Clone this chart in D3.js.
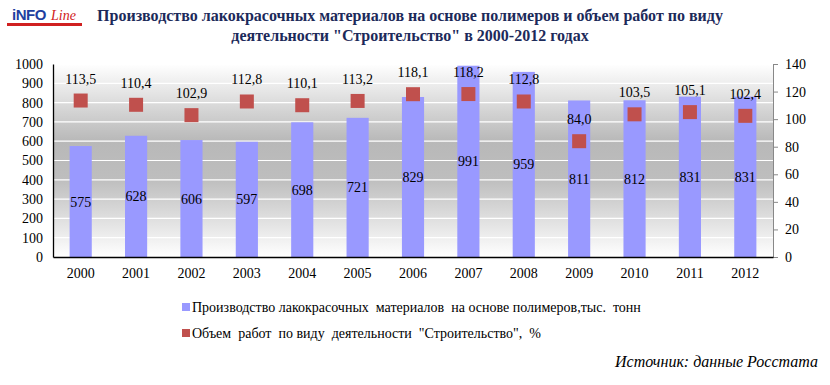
<!DOCTYPE html>
<html>
<head>
<meta charset="utf-8">
<script src="https://cdn.jsdelivr.net/npm/d3@7"></script>
<style>
  body { margin: 0; background: #fff; }
</style>
</head>
<body>
<div id="chart"></div>
<script>
// data
const years = ["2000","2001","2002","2003","2004","2005","2006","2007","2008","2009","2010","2011","2012"];
const production = [575, 628, 606, 597, 698, 721, 829, 991, 959, 811, 812, 831, 831];
const construction = [113.5, 110.4, 102.9, 112.8, 110.1, 113.2, 118.1, 118.2, 112.8, 84.0, 103.5, 105.1, 102.4];
const leftTicks = d3.range(0, 1001, 100);
const rightTicks = d3.range(0, 141, 20);
const titleLines = [
  "Производство лакокрасочных материалов на основе полимеров и объем работ по виду",
  "деятельности \"Строительство\" в 2000-2012 годах"
];
const legendItems = [
  { label: "Производство лакокрасочных  материалов  на основе полимеров,тыс.  тонн", color: "#9999ff" },
  { label: "Объем  работ  по виду  деятельности  \"Строительство\",  %", color: "#c0504d" }
];

const SERIF = "'Liberation Serif', 'Times New Roman', serif";
const W = 830, H = 385;
const margin = {top: 64, right: 57, bottom: 128, left: 53};
const width = W - margin.left - margin.right;
const height = H - margin.top - margin.bottom;

const root = d3.select("#chart").append("svg")
  .attr("width", W)
  .attr("height", H)
  .attr("font-family", SERIF);

/* background gradient for plot area */
const grad = root.append("defs").append("linearGradient")
  .attr("id", "bg").attr("x1", 0).attr("y1", 0).attr("x2", 0).attr("y2", 1);
grad.append("stop").attr("offset", "0%").attr("stop-color", "#ffffff");
grad.append("stop").attr("offset", "40%").attr("stop-color", "#b8b8b8");
grad.append("stop").attr("offset", "60%").attr("stop-color", "#bebebe");
grad.append("stop").attr("offset", "100%").attr("stop-color", "#ffffff");

const svg = root.append("g")
  .attr("transform", `translate(${margin.left},${margin.top})`);

/* scales */
const x = d3.scaleBand().domain(years).range([0, width]).paddingInner(0.6).paddingOuter(0.3);
const y = d3.scaleLinear().domain([0, 1000]).range([height, 0]);
const y2 = d3.scaleLinear().domain([0, 140]).range([height, 0]);

svg.append("rect")
  .attr("width", width).attr("height", height)
  .attr("fill", "url(#bg)");

/* gridlines */
svg.selectAll(".grid")
  .data(leftTicks.slice(1))
  .join("line")
  .attr("class", "grid")
  .attr("x1", 0).attr("x2", width)
  .attr("y1", d => y(d)).attr("y2", d => y(d))
  .attr("stroke", "#ffffff").attr("stroke-width", 1.2);

/* bars */
svg.selectAll(".bar")
  .data(production)
  .join("rect")
  .attr("class", "bar")
  .attr("x", (d, i) => x(years[i]))
  .attr("width", x.bandwidth())
  .attr("y", d => y(d))
  .attr("height", d => height - y(d))
  .attr("fill", "#9999ff");

svg.selectAll(".barLabel")
  .data(production)
  .join("text")
  .attr("class", "barLabel")
  .attr("x", (d, i) => x(years[i]) + x.bandwidth() / 2)
  .attr("y", d => (y(d) + height) / 2 + 5)
  .attr("text-anchor", "middle")
  .attr("font-family", SERIF)
  .attr("font-size", 14)
  .text(d => d);

/* markers */
const ms = 14;
svg.selectAll(".marker")
  .data(construction)
  .join("rect")
  .attr("class", "marker")
  .attr("x", (d, i) => x(years[i]) + x.bandwidth() / 2 - ms / 2)
  .attr("y", d => y2(d) - ms / 2)
  .attr("width", ms).attr("height", ms)
  .attr("fill", "#c0504d");

const fmt = d => d3.format(".1f")(d).replace(".", ",");
svg.selectAll(".markLabel")
  .data(construction)
  .join("text")
  .attr("class", "markLabel")
  .attr("x", (d, i) => x(years[i]) + x.bandwidth() / 2)
  .attr("y", d => y2(d) - 17)
  .attr("text-anchor", "middle")
  .attr("font-family", SERIF)
  .attr("font-size", 14)
  .text(fmt);

/* axes */
const yAxis = svg.append("g")
  .call(d3.axisLeft(y).tickValues(leftTicks).tickFormat(d3.format("d")).tickSize(0).tickPadding(10));
yAxis.attr("font-family", SERIF);
yAxis.select(".domain").attr("stroke", "#000").attr("stroke-width", 1.3);
yAxis.selectAll("text").attr("font-size", 14).attr("fill", "#000");

const y2Axis = svg.append("g")
  .attr("transform", `translate(${width},0)`)
  .call(d3.axisRight(y2).tickValues(rightTicks).tickSize(5).tickSizeOuter(5).tickPadding(7));
y2Axis.attr("font-family", SERIF);
y2Axis.select(".domain").attr("stroke", "#888");
y2Axis.selectAll("line").attr("stroke", "#888");
y2Axis.selectAll("text").attr("font-size", 14).attr("fill", "#000");

const xAxis = svg.append("g")
  .attr("transform", `translate(0,${height})`)
  .call(d3.axisBottom(x).tickSize(0).tickPadding(11));
xAxis.attr("font-family", SERIF);
xAxis.select(".domain").attr("stroke", "#000").attr("stroke-width", 1.3);
xAxis.selectAll("text").attr("font-size", 14).attr("fill", "#000");

/* title */
root.selectAll(".title")
  .data(titleLines)
  .join("text")
  .attr("class", "title")
  .attr("x", 410)
  .attr("y", (d, i) => 21 + i * 20)
  .attr("text-anchor", "middle")
  .attr("font-family", SERIF)
  .attr("font-size", 16)
  .attr("font-weight", "bold")
  .attr("fill", "#1c2a5a")
  .text(d => d);

/* logo */
const logo = root.append("g").attr("transform", "translate(7,0)");
logo.append("text").attr("x", 5).attr("y", 20)
  .attr("font-size", 15).attr("font-weight", "bold")
  .attr("font-family", "'Liberation Sans', Arial, sans-serif")
  .attr("fill", "#1f3f9f").attr("letter-spacing", -0.5).text("iNFO");
logo.append("text").attr("x", 44).attr("y", 20)
  .attr("font-size", 14).attr("font-style", "italic")
  .attr("font-family", SERIF)
  .attr("fill", "#d02020").text("Line");
logo.append("rect").attr("x", 0).attr("y", 23).attr("width", 75).attr("height", 3).attr("fill", "#d02020");

/* legend */
const legend = root.append("g").attr("transform", "translate(182,0)");
const li = legend.selectAll(".li")
  .data(legendItems)
  .join("g")
  .attr("transform", (d, i) => `translate(0,${307 + i * 26})`);
li.append("rect").attr("x", 0).attr("y", -4).attr("width", 8).attr("height", 8)
  .attr("fill", d => d.color);
li.append("text").attr("x", 10).attr("y", 5)
  .attr("font-family", SERIF)
  .attr("font-size", 14)
  .style("white-space", "pre")
  .text(d => d.label);

/* source */
root.append("text")
  .attr("x", 818).attr("y", 367)
  .attr("text-anchor", "end")
  .attr("font-family", SERIF)
  .attr("font-size", 16)
  .attr("font-style", "italic")
  .text("Источник: данные Росстата");
</script>
</body>
</html>
